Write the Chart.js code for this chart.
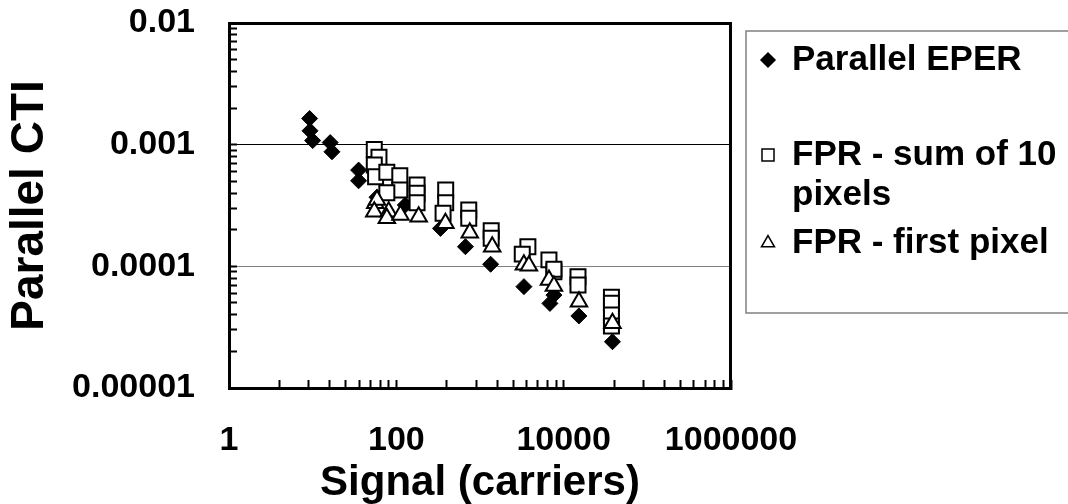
<!DOCTYPE html>
<html><head><meta charset="utf-8">
<script src="https://cdn.jsdelivr.net/npm/chart.js@4/dist/chart.umd.min.js"></script>
<style>html,body{margin:0;padding:0;background:#fff;}#wrap{width:1068px;height:504px;position:relative;}</style>
</head><body><div id="wrap"><canvas id="c" width="1068" height="504"></canvas></div>
<script>
// ---- data ----
const seriesNames = ['Parallel EPER', 'FPR - sum of 10 pixels', 'FPR - first pixel'];
const eperX = [9.2, 9.3, 10.0, 16.2, 17.0, 35.4, 35.4, 58.7, 128, 337, 670, 1340, 3350, 6850, 7650, 15200, 38300];
const eperY = [0.00164, 0.0013, 0.00108, 0.00104, 0.000874, 0.000618, 0.000505, 0.00037, 0.000319, 0.000205, 0.000145, 0.000104, 0.0000681, 0.0000496, 0.000058, 0.0000391, 0.000024];
const sumX = [54.5, 62, 54.5, 56.5, 77, 110, 110, 77, 177, 177, 177, 389, 389, 362, 734, 734, 1361, 1361, 3735, 3200, 6670, 7650, 7650, 14830, 14830, 37240, 37240, 37240, 37240];
const sumY = [0.000914, 0.000787, 0.00068, 0.000545, 0.000592, 0.000555, 0.000424, 0.000403, 0.000466, 0.000398, 0.000333, 0.000424, 0.000333, 0.000273, 0.00029, 0.000248, 0.000196, 0.00017, 0.000145, 0.000126, 0.000113, 0.0000903, 0.0000945, 0.0000822, 0.0000702, 0.0000556, 0.0000497, 0.0000398, 0.0000323];
const firstX = [56, 58.7, 54.5, 81, 77, 112, 185, 386, 755, 1400, 3345, 3840, 6670, 7650, 15240, 38300];
const firstY = [0.00033, 0.000351, 0.000281, 0.000281, 0.000248, 0.000264, 0.000256, 0.000226, 0.000189, 0.000145, 0.000103, 0.000101, 0.0000772, 0.0000689, 0.0000512, 0.000034];
const xTickValues = [1, 100, 10000, 1000000];
const xTickLabels = ['1', '100', '10000', '1000000'];
const yTickValues = [0.00001, 0.0001, 0.001, 0.01];
const yTickLabels = ['0.00001', '0.0001', '0.001', '0.01'];
const xTitle = 'Signal (carriers)';
const yTitle = 'Parallel CTI';
const legendLines = [['Parallel EPER'], ['FPR - sum of 10', 'pixels'], ['FPR - first pixel']];

const toPts = (xs, ys) => xs.map((x, i) => ({x: x, y: ys[i]}));
const FONT = "'Liberation Sans', Arial, Helvetica, sans-serif";

function xMinorTicks() {
  const out = [];
  for (let n = 0; n < 3; n++) {
    const base = Math.pow(100, n);
    for (let k = 1; k < 10; k++) out.push({value: base * k * k});
  }
  out.push({value: 1000000});
  return out;
}
function yMinorTicks() {
  const out = [];
  for (let n = -5; n < -2; n++) {
    const base = Math.pow(10, n);
    for (let k = 1; k < 10; k++) out.push({value: base * k});
  }
  out.push({value: 0.01});
  return out;
}
function near(a, b) { return Math.abs(Math.log10(a) - Math.log10(b)) < 1e-6; }
function noPad(s) { s.paddingTop = 0; s.paddingBottom = 0; s.paddingLeft = 0; s.paddingRight = 0; }

const framePlugin = {
  id: 'frame',
  afterDatasetsDraw(chart) {
    const {ctx, chartArea: a} = chart;
    ctx.save();
    ctx.strokeStyle = '#000';
    ctx.lineWidth = 3;
    ctx.beginPath();
    ctx.moveTo(a.left, a.top + 0.5);
    ctx.lineTo(a.right - 0.5, a.top + 0.5);
    ctx.lineTo(a.right - 0.5, a.bottom);
    ctx.stroke();
    ctx.restore();
  }
};

const legendPlugin = {
  id: 'customLegend',
  afterDraw(chart) {
    const {ctx, chartArea: a} = chart;
    const bx = a.right + 15, by = a.top + 8, bw = 340, bh = 282;
    ctx.save();
    ctx.strokeStyle = '#808080';
    ctx.lineWidth = 1.5;
    ctx.strokeRect(bx, by, bw, bh);
    const rows = [[29], [124, 164], [212]];
    ctx.textBaseline = 'middle';
    ctx.textAlign = 'left';
    legendLines.forEach((lines, i) => {
      const ds = chart.data.datasets.find(d => d.label === seriesNames[i]);
      const my = by + rows[i][0];
      ctx.fillStyle = ds.pointBackgroundColor;
      ctx.strokeStyle = '#000';
      ctx.lineWidth = 1.5;
      Chart.helpers.drawPoint(ctx, {pointStyle: ds.pointStyle, radius: ds.legendRadius, borderWidth: 1.5}, bx + 22, my);
      ctx.font = 'bold 35px ' + FONT;
      ctx.fillStyle = '#000';
      lines.forEach((t, j) => ctx.fillText(t, bx + 46, by + rows[i][j]));
    });
    ctx.restore();
  }
};

new Chart(document.getElementById('c'), {
  type: 'scatter',
  data: {
    datasets: [
      {label: seriesNames[2], data: toPts(firstX, firstY), pointStyle: 'triangle', pointRadius: 9.5,
       pointBackgroundColor: '#fff', pointBorderColor: '#000', pointBorderWidth: 2, legendRadius: 7.5, order: 0},
      {label: seriesNames[1], data: toPts(sumX, sumY), pointStyle: 'rect', pointRadius: 10.6,
       pointBackgroundColor: '#fff', pointBorderColor: '#000', pointBorderWidth: 2, legendRadius: 8.5, order: 1},
      {label: seriesNames[0], data: toPts(eperX, eperY), pointStyle: 'rectRot', pointRadius: 8,
       pointBackgroundColor: '#000', pointBorderColor: '#000', pointBorderWidth: 1, legendRadius: 7, order: 2}
    ]
  },
  options: {
    responsive: false,
    animation: false,
    devicePixelRatio: 1,
    layout: {padding: {left: 0, top: 23, right: 337, bottom: 0}},
    plugins: {legend: {display: false}, tooltip: {enabled: false}},
    scales: {
      x: {
        type: 'logarithmic', position: 'bottom', min: 1, max: 1000000,
        afterBuildTicks(s) { s.ticks = xMinorTicks(); },
        afterFit(s) { s.height = 116; noPad(s); },
        ticks: {
          autoSkip: false, maxRotation: 0, minRotation: 0, padding: 40, color: '#000',
          font: {family: FONT, size: 34, weight: 'bold'},
          callback(v) { const i = xTickValues.findIndex(t => near(t, v)); return i >= 0 ? xTickLabels[i] : ''; }
        },
        grid: {drawOnChartArea: false, drawTicks: true, tickLength: -8, tickWidth: 2, tickColor: '#000'},
        border: {display: true, width: 3, color: '#000'},
        title: {display: true, text: xTitle, color: '#000', padding: {top: 0, bottom: 0},
                font: {family: FONT, size: 42, weight: 'bold', lineHeight: 1}}
      },
      y: {
        type: 'logarithmic', position: 'left', min: 0.00001, max: 0.01,
        afterBuildTicks(s) { s.ticks = yMinorTicks(); },
        afterFit(s) { s.width = 229; noPad(s); },
        ticks: {
          autoSkip: false, padding: 42, color: '#000',
          font: {family: FONT, size: 34, weight: 'bold'},
          callback(v) { const i = yTickValues.findIndex(t => near(t, v)); return i >= 0 ? yTickLabels[i] : ''; }
        },
        grid: {
          drawOnChartArea: true, drawTicks: true, tickLength: -8, tickWidth: 2, tickColor: '#000', lineWidth: 1,
          color(c) {
            const v = c.tick && c.tick.value;
            if (v && near(v, 0.001)) return '#000';
            if (v && near(v, 0.0001)) return '#808080';
            return 'rgba(0,0,0,0)';
          }
        },
        border: {display: true, width: 3, color: '#000'},
        title: {display: true, text: yTitle, color: '#000', padding: {top: 7, bottom: 0},
                font: {family: FONT, size: 46, weight: 'bold', lineHeight: 1}}
      }
    }
  },
  plugins: [framePlugin, legendPlugin]
});
</script></body></html>
